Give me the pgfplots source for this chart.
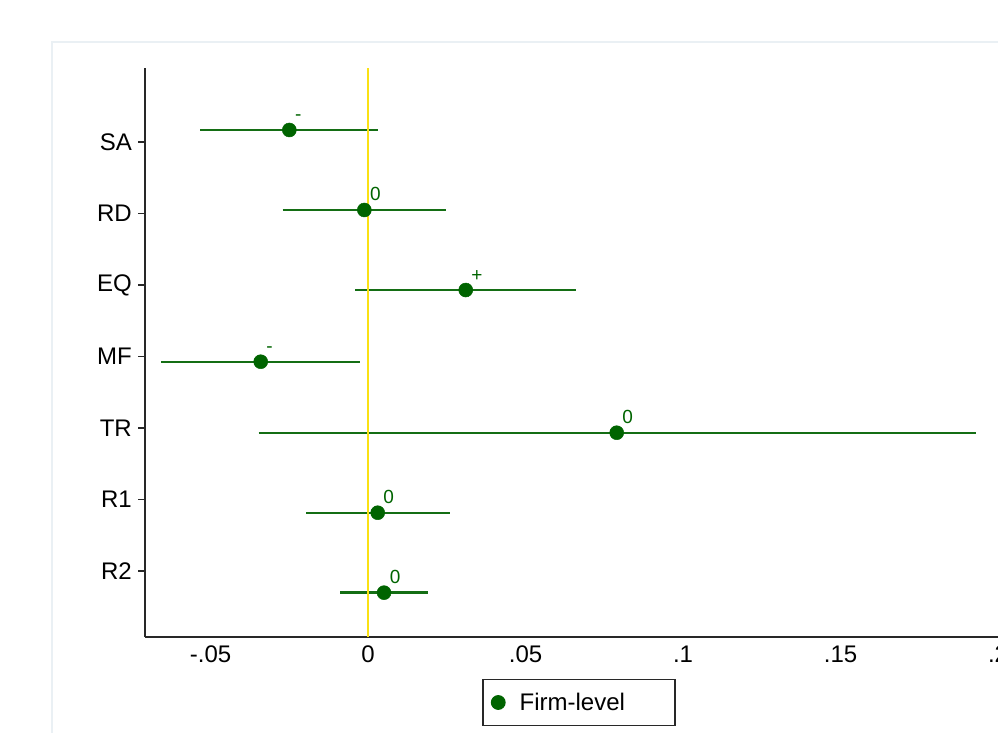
\documentclass[border=0pt]{standalone}
\usepackage{fontspec}
\setmainfont{Liberation Sans}
\usepackage{pgfplots}
\pgfplotsset{compat=1.18}
\definecolor{dkgreen}{RGB}{0,100,0}
\definecolor{cigreen}{RGB}{20,110,20}
\definecolor{zeroline}{RGB}{250,225,20}
\definecolor{framegray}{RGB}{234,240,244}
\definecolor{axisgray}{RGB}{40,40,40}
\begin{document}
\begin{tikzpicture}[x=1pt,y=1pt]
\path[use as bounding box] (0,0) rectangle (998,732);
\clip (0,0) rectangle (998,732);
\draw[framegray, line width=1.5pt] (52,690) rectangle (1200,-50);
\begin{axis}[
  at={(145pt,95pt)}, anchor=south west,
  scale only axis, width=868.8pt, height=569pt,
  xmin=-0.0708, xmax=0.205, ymin=0.077, ymax=8.035,
  axis x line*=bottom, axis y line*=left,
  axis line style={axisgray, line width=1.6pt},
  xtick={-0.05,0,0.05,0.1,0.15,0.2},
  xticklabels={-.05,0,.05,.1,.15,.2},
  ytick={1,2,3,4,5,6,7},
  yticklabels={R2,R1,TR,MF,EQ,RD,SA},
  xtick style={draw=none},
  ytick align=outside,
  xtick align=inside,
  major tick length=7pt,
  ytick style={axisgray, line width=1.6pt},
  ticklabel style={font=\fontsize{24}{28}\selectfont, text=black},
  xticklabel style={inner sep=0pt, yshift=-9pt},
  yticklabel style={inner sep=0pt, xshift=-6pt},
  clip=false,
  legend style={at={(0.4995,-0.1151)}, anchor=center, draw=axisgray, line width=1.2pt,
    inner xsep=0pt, inner ysep=13.5pt, font=\fontsize{24}{28}\selectfont,
    nodes={inner sep=0pt},
    /tikz/every odd column/.append style={column sep=14pt}},
  legend cell align=left,
]
% confidence intervals
\addplot[cigreen, line width=2.4pt, forget plot] coordinates {(-0.05324,7.168) (0.00327,7.168)};
\addplot[cigreen, line width=2.4pt, forget plot] coordinates {(-0.02708,6.049) (0.02486,6.049)};
\addplot[cigreen, line width=2.4pt, forget plot] coordinates {(-0.00413,4.930) (0.06603,4.930)};
\addplot[cigreen, line width=2.4pt, forget plot] coordinates {(-0.06571,3.927) (-0.00270,3.927)};
\addplot[cigreen, line width=2.4pt, forget plot] coordinates {(-0.03470,2.934) (0.19292,2.934)};
\addplot[cigreen, line width=2.4pt, forget plot] coordinates {(-0.01968,1.815) (0.02613,1.815)};
\addplot[cigreen, line width=2.4pt, forget plot] coordinates {(-0.00889,0.697) (0.01895,0.697)};
% zero line
\addplot[zeroline, line width=2.2pt, forget plot] coordinates {(0,0.077) (0,8.035)};
% point estimates
\addplot[only marks, mark=*, mark size=7pt, color=dkgreen,
  mark options={draw=dkgreen, fill=dkgreen, line width=0.5pt},
  legend image code/.code={\path[draw=none, fill=none] (0pt,-7pt) rectangle (22pt,7pt); \fill[dkgreen] (15.3pt,0pt) circle (6.8pt);},
  point meta=explicit symbolic, nodes near coords,
  every node near coord/.append style={anchor=base west, inner sep=0pt, xshift=5.5pt, yshift=9pt,
    font=\fontsize{19}{21}\selectfont, text=dkgreen}]
  table[x=x, y=y, meta=lab] {
x y lab
-0.02498 7.168 -
-0.00117 6.049 0
0.03102 4.930 +
-0.03406 3.927 -
0.07895 2.934 0
0.00308 1.815 0
0.00508 0.697 0
};
\addlegendentry{Firm-level\hspace*{50pt}}
\end{axis}
\end{tikzpicture}
\end{document}
